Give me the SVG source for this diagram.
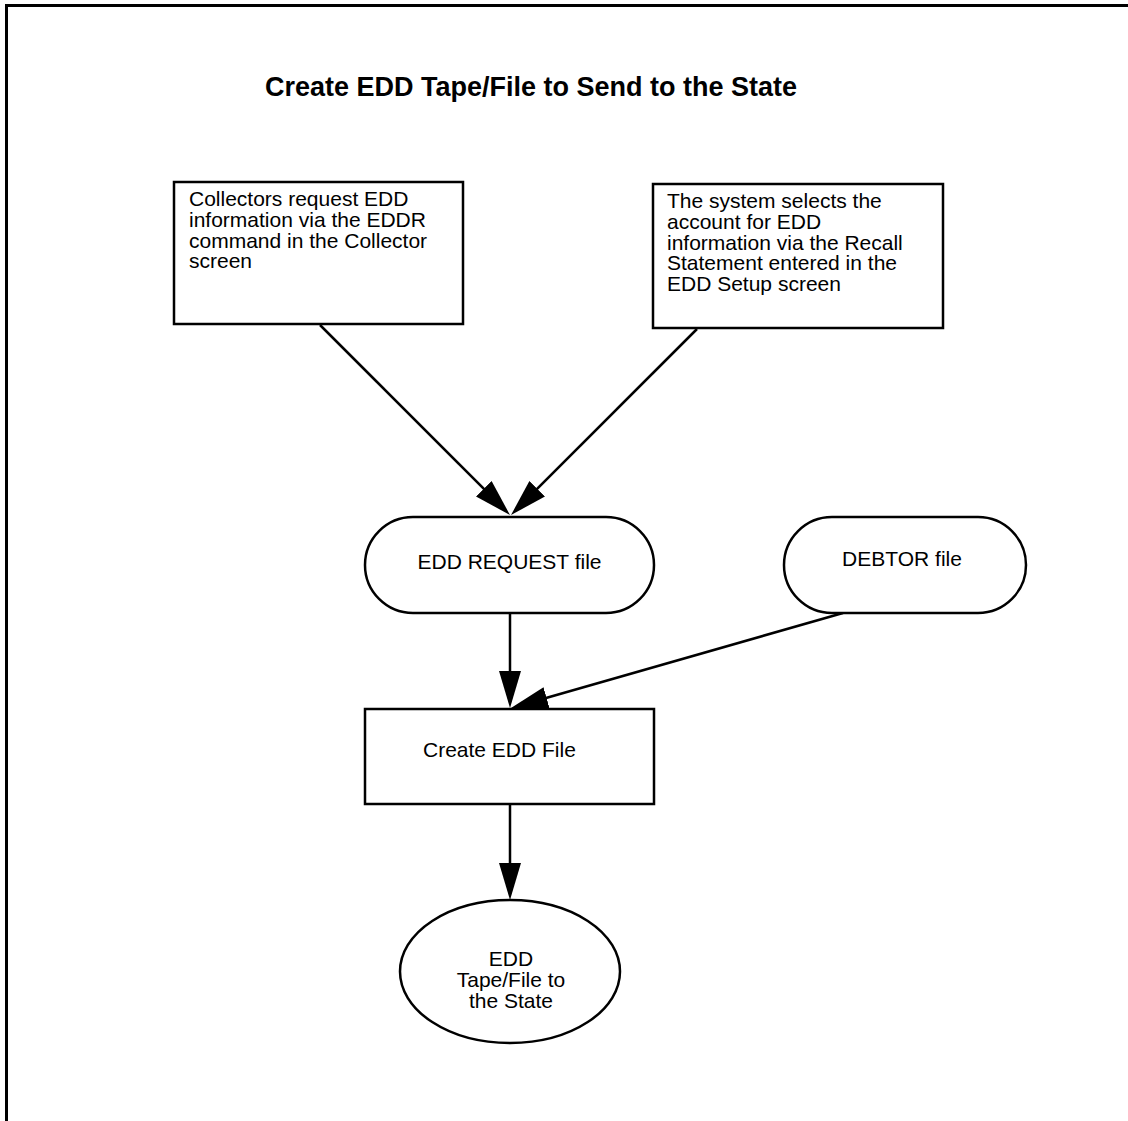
<svg xmlns="http://www.w3.org/2000/svg" width="1128" height="1121" viewBox="0 0 1128 1121">
<defs>
<style>
.t{font-family:"Liberation Sans",Arial,sans-serif;font-size:21px;fill:#000}
.title{font-family:"Liberation Sans",Arial,sans-serif;font-size:27px;font-weight:bold;fill:#000}
.shape{fill:#fff;stroke:#000;stroke-width:2.5}
.conn{stroke:#000;stroke-width:2.5;fill:none}
</style>
<marker id="ah" markerUnits="userSpaceOnUse" markerWidth="37" markerHeight="22" refX="27" refY="11" orient="auto">
<path d="M0,0 L37,11 L0,22 z" fill="#000"/>
</marker>
</defs>
<rect width="1128" height="1121" fill="#fff"/>
<polyline points="6.5,1121 6.5,5.5 1128,5.5" fill="none" stroke="#000" stroke-width="3"/>
<text class="title" x="265" y="96">Create EDD Tape/File to Send to the State</text>

<g id="connectors">
<line class="conn" x1="320" y1="325" x2="502.9" y2="507.9" marker-end="url(#ah)"/>
<line class="conn" x1="697" y1="329" x2="518.1" y2="507.9" marker-end="url(#ah)"/>
<line class="conn" x1="510" y1="613" x2="510" y2="698" marker-end="url(#ah)"/>
<line class="conn" x1="843" y1="613" x2="520.6" y2="705.2" marker-end="url(#ah)"/>
<line class="conn" x1="510" y1="804" x2="510" y2="890" marker-end="url(#ah)"/>
</g>

<g id="collectors">
<rect class="shape" x="174" y="182" width="289" height="142"/>
<text class="t" x="189" y="206"><tspan x="189">Collectors request EDD</tspan><tspan x="189" dy="20.8">information via the EDDR</tspan><tspan x="189" dy="20.8">command in the Collector</tspan><tspan x="189" dy="20.8">screen</tspan></text>
</g>

<g id="system">
<rect class="shape" x="653" y="184" width="290" height="144"/>
<text class="t" x="667" y="208"><tspan x="667">The system selects the</tspan><tspan x="667" dy="20.8">account for EDD</tspan><tspan x="667" dy="20.8">information via the Recall</tspan><tspan x="667" dy="20.8">Statement entered in the</tspan><tspan x="667" dy="20.8">EDD Setup screen</tspan></text>
</g>

<g id="edd-request">
<rect class="shape" x="365" y="517" width="289" height="96" rx="48" ry="48"/>
<text class="t" x="509.5" y="569" text-anchor="middle">EDD REQUEST file</text>
</g>

<g id="debtor">
<rect class="shape" x="784" y="517" width="242" height="96" rx="48" ry="48"/>
<text class="t" x="902" y="566" text-anchor="middle">DEBTOR file</text>
</g>

<g id="create-edd">
<rect class="shape" x="365" y="709" width="289" height="95"/>
<text class="t" x="423" y="757">Create EDD File</text>
</g>

<g id="tape">
<ellipse class="shape" cx="510" cy="971.5" rx="110" ry="71.5"/>
<text class="t" x="511" y="966" text-anchor="middle"><tspan x="511">EDD</tspan><tspan x="511" dy="21">Tape/File to</tspan><tspan x="511" dy="21">the State</tspan></text>
</g>
</svg>
